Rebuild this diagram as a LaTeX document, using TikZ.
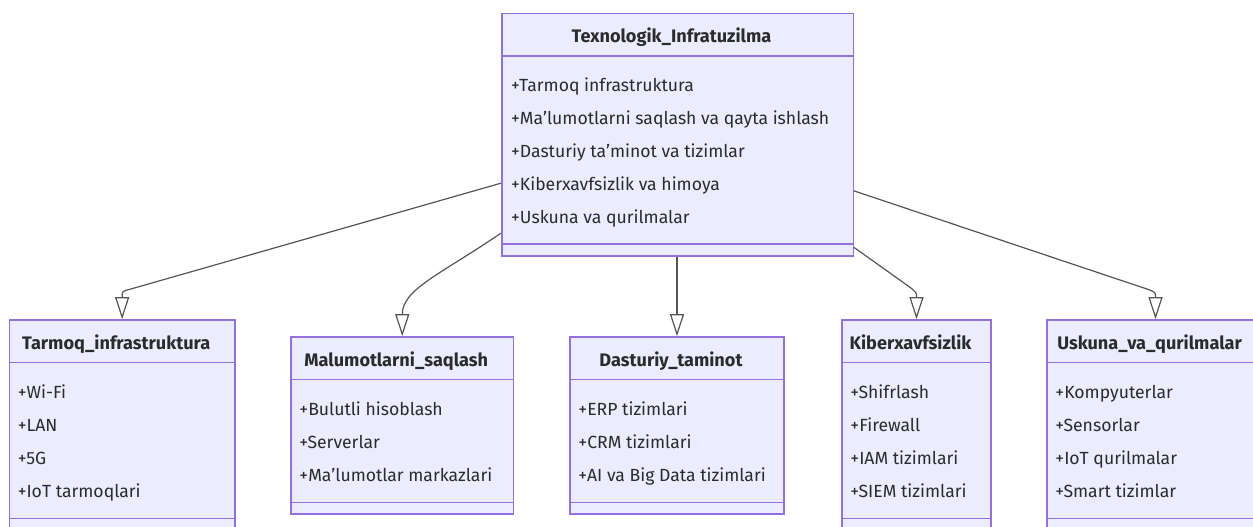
\documentclass[tikz,border=0pt]{standalone}
\usepackage{fontspec}
\setmainfont{Fira Sans}
\usetikzlibrary{arrows.meta,positioning,fit,calc}

\definecolor{classfill}{HTML}{ECECFF}
\definecolor{classborder}{HTML}{9370DB}
\definecolor{linkgray}{HTML}{555555}
\definecolor{textgray}{HTML}{2B2B2B}

\begin{document}
\begin{tikzpicture}[x=0.75pt,y=-0.75pt,
    umlbox/.style={draw=classborder,fill=classfill,line width=1.2pt,inner sep=0pt},
    divider/.style={draw=classborder,line width=1.2pt},
    classtitle/.style={anchor=base,inner sep=0pt,text=textgray,font=\bfseries\fontsize{13.6}{16}\selectfont},
    member/.style={anchor=base west,inner sep=0pt,text=textgray,font=\fontsize{13.2}{16}\selectfont},
    parentlink/.style={draw=linkgray,line width=0.9pt,-{Triangle[length=16.5pt,width=10.5pt,fill=white]}}
    ]

    \useasboundingbox (0,0) rectangle (1253,526);
    \clip (0,0) rectangle (1253,526);

    %class boxes (lower ones run past the page edge)
    \node[umlbox,fit={(501.7,13.3) (853.3,255.7)}] (infra) {};
    \node[umlbox,fit={(9.3,320) (235,530)}] (tarmoq) {};
    \node[umlbox,fit={(291,337) (513.5,514)}] (malumot) {};
    \node[umlbox,fit={(570,337) (784,514)}] (dasturiy) {};
    \node[umlbox,fit={(842,320) (991,530)}] (kiber) {};
    \node[umlbox,fit={(1047,320) (1264,530)}] (uskuna) {};

    %header and methods compartments
    \foreach \c in {infra,tarmoq,malumot,dasturiy,kiber,uskuna}{
        \draw[divider] ($(\c.north west)+(0,43.3)$) -- ($(\c.north east)+(0,43.3)$);
        \draw[divider] ($(\c.south west)+(0,-12.5)$) -- ($(\c.south east)+(0,-12.5)$);
    }

    %titles
    \node[classtitle] (infra-t) at ($(infra.north)+(-6,29.5)$) {Texnologik\_Infratuzilma};
    \node[classtitle] (tarmoq-t) at ($(tarmoq.north)+(-6,30)$) {Tarmoq\_infrastruktura};
    \node[classtitle] (malumot-t) at ($(malumot.north)+(-6,30)$) {Malumotlarni\_saqlash};
    \node[classtitle] (dasturiy-t) at ($(dasturiy.north)+(-6,30)$) {Dasturiy\_taminot};
    \node[classtitle] (kiber-t) at ($(kiber.north)+(-6,30)$) {Kiberxavfsizlik};
    \node[classtitle] (uskuna-t) at ($(uskuna.north)+(-6,30)$) {Uskuna\_va\_qurilmalar};

    %members
    \foreach \m [count=\i] in {Tarmoq infrastruktura,Ma’lumotlarni saqlash va qayta ishlash,
        Dasturiy ta’minot va tizimlar,Kiberxavfsizlik va himoya,Uskuna va qurilmalar}
        \node[member] (infra-m\i) at ($(infra.north west)+(10,{46+33*\i})$) {+\m};
    \foreach \m [count=\i] in {Wi-Fi,LAN,5G,IoT tarmoqlari}
        \node[member] (tarmoq-m\i) at ($(tarmoq.north west)+(9,{46+33*\i})$) {+\m};
    \foreach \m [count=\i] in {Bulutli hisoblash,Serverlar,Ma’lumotlar markazlari}
        \node[member] (malumot-m\i) at ($(malumot.north west)+(9,{46+33*\i})$) {+\m};
    \foreach \m [count=\i] in {ERP tizimlari,CRM tizimlari,AI va Big Data tizimlari}
        \node[member] (dasturiy-m\i) at ($(dasturiy.north west)+(9,{46+33*\i})$) {+\m};
    \foreach \m [count=\i] in {Shifrlash,Firewall,IAM tizimlari,SIEM tizimlari}
        \node[member] (kiber-m\i) at ($(kiber.north west)+(9,{46+33*\i})$) {+\m};
    \foreach \m [count=\i] in {Kompyuterlar,Sensorlar,IoT qurilmalar,Smart tizimlar}
        \node[member] (uskuna-m\i) at ($(uskuna.north west)+(9,{46+33*\i})$) {+\m};

    %inheritance links
    \draw[parentlink] ($(infra.north west)+(0,170.7)$) -- ($(tarmoq.north)+(8,-30)$)
        .. controls ($(tarmoq.north)+(0,-28)$) .. (tarmoq.north);
    \draw[parentlink] ($(infra.north west)+(0,220.7)$)
        .. controls (440,274.7) and ($(malumot.north)+(0,-47)$) .. (malumot.north);
    \draw[parentlink] (infra.south -| dasturiy.north) -- (dasturiy.north);
    \draw[parentlink] ($(infra.north east)+(0,235)$) -- ($(kiber.north)+(-8,-33)$)
        .. controls ($(kiber.north)+(0,-27)$) .. (kiber.north);
    \draw[parentlink] ($(infra.north east)+(0,178.4)$) -- ($(uskuna.north)+(-8,-30)$)
        .. controls ($(uskuna.north)+(0,-27)$) .. (uskuna.north);
\end{tikzpicture}
\end{document}
